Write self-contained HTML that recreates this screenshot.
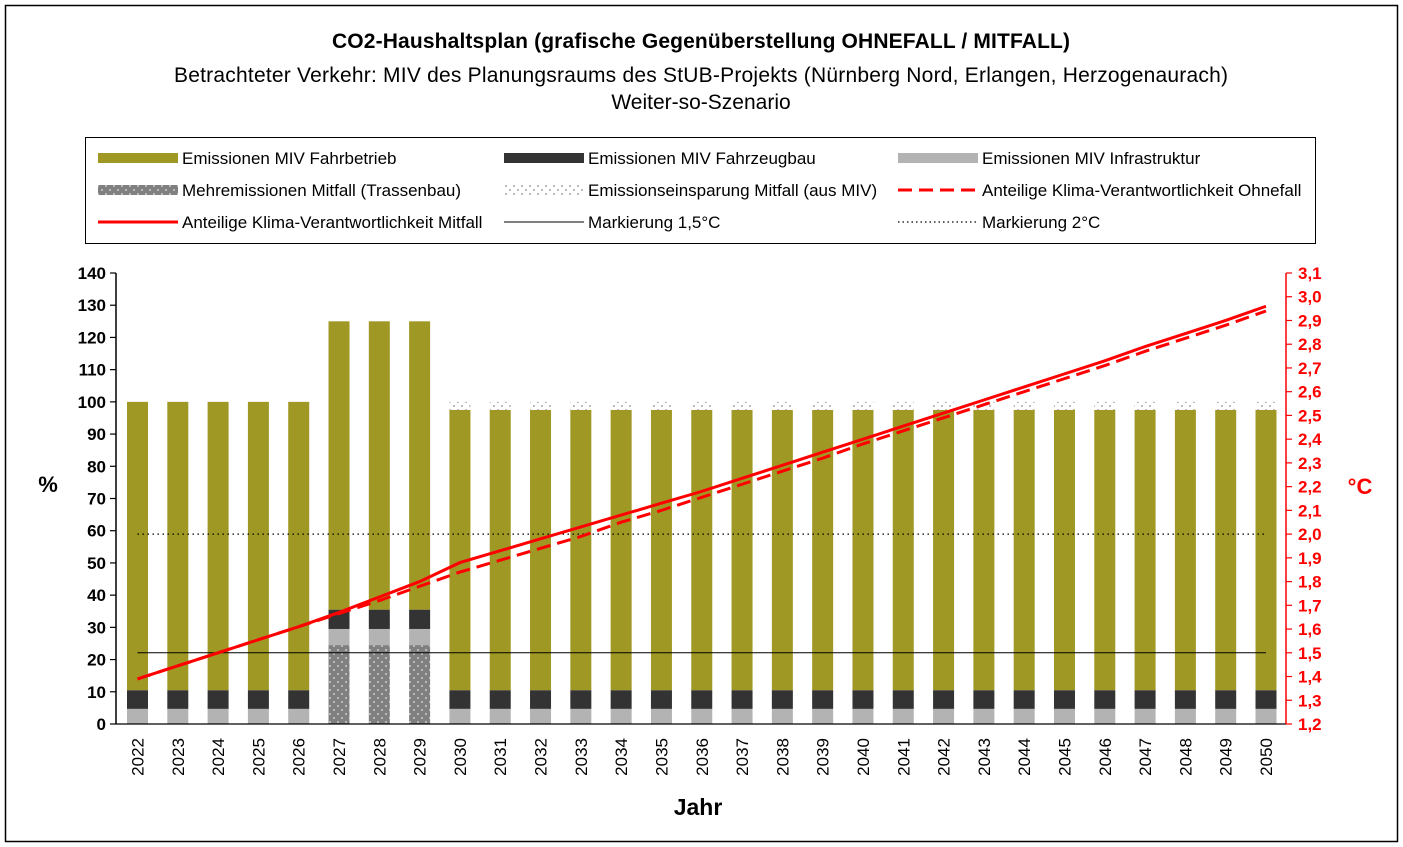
<!DOCTYPE html>
<html><head><meta charset="utf-8">
<style>
html,body{margin:0;padding:0;background:#fff;}
svg{display:block;font-family:"Liberation Sans",sans-serif;}
</style></head>
<body>
<svg id="chart" width="1403" height="847" viewBox="0 0 1403 847" xmlns="http://www.w3.org/2000/svg">
<defs>
<pattern id="pMehr" width="8" height="8" patternUnits="userSpaceOnUse">
<rect width="8" height="8" fill="#808080"/><rect x="1" y="1" width="2" height="2" fill="#b8b8b8"/><rect x="5" y="5" width="2" height="2" fill="#b8b8b8"/>
</pattern>
<pattern id="pSave" width="8" height="8" patternUnits="userSpaceOnUse">
<rect width="8" height="8" fill="#fff"/><rect x="1" y="1" width="2" height="2" fill="#bbb"/><rect x="5" y="5" width="2" height="2" fill="#bbb"/>
</pattern>
</defs>
<rect x="5.5" y="5.5" width="1392" height="836" fill="#fff" stroke="#000" stroke-width="1.5"/>
<text x="701" y="48" text-anchor="middle" font-size="21" font-weight="bold" textLength="738">CO2-Haushaltsplan (grafische Gegenüberstellung OHNEFALL / MITFALL)</text>
<text x="701" y="82" text-anchor="middle" font-size="21" textLength="1054">Betrachteter Verkehr: MIV des Planungsraums des StUB-Projekts (Nürnberg Nord, Erlangen, Herzogenaurach)</text>
<text x="701" y="109" text-anchor="middle" font-size="21">Weiter-so-Szenario</text>

<g>
<rect x="85.5" y="137.5" width="1230" height="106" fill="#fff" stroke="#000" stroke-width="1"/>
<g><rect x="98" y="153" width="80" height="10" fill="#a09824"/><text x="182" y="164" font-size="17">Emissionen MIV Fahrbetrieb</text></g>
<g><rect x="504" y="153" width="80" height="10" fill="#333"/><text x="588" y="164" font-size="17">Emissionen MIV Fahrzeugbau</text></g>
<g><rect x="898" y="153" width="80" height="10" fill="#b3b3b3"/><text x="982" y="164" font-size="17">Emissionen MIV Infrastruktur</text></g>
<g><rect x="98" y="185" width="80" height="10" fill="url(#pMehr)"/><text x="182" y="196" font-size="17">Mehremissionen Mitfall (Trassenbau)</text></g>
<g><rect x="504" y="185" width="80" height="10" fill="url(#pSave)"/><text x="588" y="196" font-size="17">Emissionseinsparung Mitfall (aus MIV)</text></g>
<g><line x1="898" y1="190" x2="978" y2="190" stroke="#f00" stroke-width="3" stroke-dasharray="14,7"/><text x="982" y="196" font-size="17">Anteilige Klima-Verantwortlichkeit Ohnefall</text></g>
<g><line x1="98" y1="222" x2="178" y2="222" stroke="#f00" stroke-width="3"/><text x="182" y="228" font-size="17">Anteilige Klima-Verantwortlichkeit Mitfall</text></g>
<g><line x1="504" y1="222" x2="584" y2="222" stroke="#000" stroke-width="1"/><text x="588" y="228" font-size="17">Markierung 1,5°C</text></g>
<g><line x1="898" y1="222" x2="978" y2="222" stroke="#000" stroke-width="1.2" stroke-dasharray="1.5,3"/><text x="982" y="228" font-size="17">Markierung 2°C</text></g>
</g>

<g id="plot"></g>
<text x="48" y="492" text-anchor="middle" font-size="22" font-weight="bold">%</text>
<text x="1360" y="494" text-anchor="middle" font-size="22" font-weight="bold" fill="#f00">°C</text>
<text x="698" y="815" text-anchor="middle" font-size="23" font-weight="bold">Jahr</text>
</svg>
<script>
const years = [2022,2023,2024,2025,2026,2027,2028,2029,2030,2031,2032,2033,2034,2035,2036,2037,2038,2039,2040,2041,2042,2043,2044,2045,2046,2047,2048,2049,2050];
const mehremissionen = [0,0,0,0,0,24.5,24.5,24.5,0,0,0,0,0,0,0,0,0,0,0,0,0,0,0,0,0,0,0,0,0];
const infrastruktur = [4.7,4.7,4.7,4.7,4.7,5,5,5,4.7,4.7,4.7,4.7,4.7,4.7,4.7,4.7,4.7,4.7,4.7,4.7,4.7,4.7,4.7,4.7,4.7,4.7,4.7,4.7,4.7];
const fahrzeugbau = [5.8,5.8,5.8,5.8,5.8,6,6,6,5.8,5.8,5.8,5.8,5.8,5.8,5.8,5.8,5.8,5.8,5.8,5.8,5.8,5.8,5.8,5.8,5.8,5.8,5.8,5.8,5.8];
const fahrbetrieb = [89.5,89.5,89.5,89.5,89.5,89.5,89.5,89.5,87,87,87,87,87,87,87,87,87,87,87,87,87,87,87,87,87,87,87,87,87];
const einsparung = [0,0,0,0,0,0,0,0,2.5,2.5,2.5,2.5,2.5,2.5,2.5,2.5,2.5,2.5,2.5,2.5,2.5,2.5,2.5,2.5,2.5,2.5,2.5,2.5,2.5];
const mitfall = [1.39,1.445,1.50,1.555,1.61,1.67,1.735,1.80,1.88,1.93,1.98,2.03,2.08,2.13,2.18,2.235,2.29,2.345,2.40,2.455,2.51,2.565,2.62,2.675,2.73,2.79,2.845,2.90,2.96];
const ohnefall = [1.39,1.445,1.50,1.555,1.61,1.665,1.72,1.78,1.84,1.89,1.94,1.99,2.05,2.10,2.155,2.21,2.265,2.32,2.38,2.435,2.49,2.545,2.60,2.655,2.71,2.77,2.825,2.88,2.94];
const leftTicks = [0,10,20,30,40,50,60,70,80,90,100,110,120,130,140];
const rightTicks = [1.2,1.3,1.4,1.5,1.6,1.7,1.8,1.9,2.0,2.1,2.2,2.3,2.4,2.5,2.6,2.7,2.8,2.9,3.0,3.1];
const mark15 = 1.5, mark2 = 2.0;

const NS = 'http://www.w3.org/2000/svg';
const plot = document.getElementById('plot');
const X0 = 116, X1 = 1286, YB = 724, YT = 273;
const yL = v => YB - (v/140)*(YB-YT);
const yR = v => YB - ((v-1.2)/1.9)*(YB-YT);
const xC = i => 137.5 + i*(1266-137.5)/(years.length-1);
const BW = 21;
function el(tag, attrs){const e=document.createElementNS(NS,tag);for(const k in attrs)e.setAttribute(k,attrs[k]);plot.appendChild(e);return e;}

const series = [[mehremissionen,'url(#pMehr)','mehremissionen'],[infrastruktur,'#b3b3b3','infrastruktur'],[fahrzeugbau,'#333333','fahrzeugbau'],[fahrbetrieb,'#a09824','fahrbetrieb'],[einsparung,'url(#pSave)','einsparung']];
years.forEach((yr,i)=>{
  let base=0;
  series.forEach(([arr,fill,nm])=>{
    const v=arr[i]; if(v<=0) return;
    const r=el('rect',{x:xC(i)-BW/2,y:yL(base+v),width:BW,height:yL(base)-yL(base+v),fill:fill});
    
    
    base+=v;
  });
  const t=el('text',{x:0,y:0,'font-size':17,'text-anchor':'end',transform:`translate(${xC(i)+6},738) rotate(-90)`});
  t.textContent=yr;
  
  
});

let a=el('line',{x1:X0,y1:YT,x2:X0,y2:YB,stroke:'#000','stroke-width':1.5});


a=el('line',{x1:X0,y1:YB,x2:X1,y2:YB,stroke:'#000','stroke-width':1.2});


a=el('line',{x1:X1,y1:YT,x2:X1,y2:YB,stroke:'#f00','stroke-width':1.5});


leftTicks.forEach(v=>{
  el('line',{x1:X0-6,y1:yL(v),x2:X0,y2:yL(v),stroke:'#000','stroke-width':1.2});
  const t=el('text',{x:X0-10,y:yL(v)+6,'font-size':17,'font-weight':'bold','text-anchor':'end'});
  t.textContent=v;
  
  
});
rightTicks.forEach(v=>{
  el('line',{x1:X1,y1:yR(v),x2:X1+6,y2:yR(v),stroke:'#f00','stroke-width':1.2});
  const t=el('text',{x:X1+12,y:yR(v)+6,'font-size':17,'font-weight':'bold',fill:'#f00'});
  t.textContent=v.toFixed(1).replace('.',',');
  
  
});

let m=el('line',{x1:xC(0),y1:yR(mark15),x2:xC(years.length-1),y2:yR(mark15),stroke:'#000','stroke-width':1});


m=el('line',{x1:xC(0),y1:yR(mark2),x2:xC(years.length-1),y2:yR(mark2),stroke:'#000','stroke-width':1.3,'stroke-dasharray':'1.5,3.5'});



const pts = arr => arr.map((v,i)=>xC(i)+','+yR(v)).join(' ');
let l=el('polyline',{points:pts(ohnefall),fill:'none',stroke:'#f00','stroke-width':3,'stroke-dasharray':'14,7'});


l=el('polyline',{points:pts(mitfall),fill:'none',stroke:'#f00','stroke-width':3});


</script>
</body></html>
